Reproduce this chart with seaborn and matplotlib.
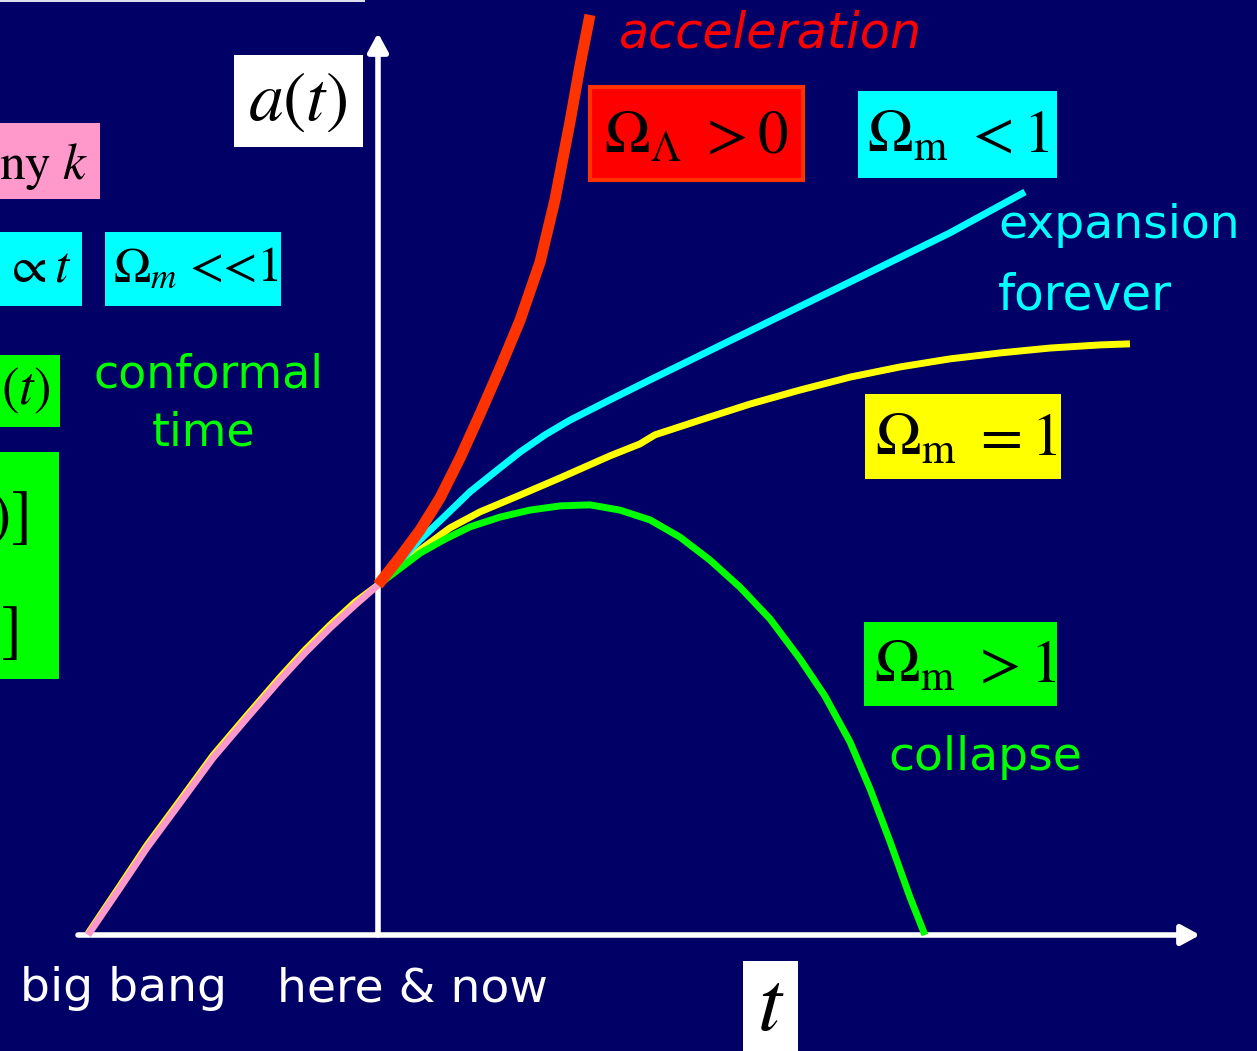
import matplotlib
matplotlib.use("Agg")
import matplotlib.pyplot as plt
import seaborn as sns
from matplotlib.patches import Rectangle

# ---------------- data (t in units of t_now, a in units of a_now) ----------------
pink_t = [0.0, 0.110, 0.203, 0.317, 0.431, 0.548, 0.662, 0.748, 0.834, 0.921, 1.0]
pink_a = [0.0, 0.134, 0.249, 0.377, 0.506, 0.620, 0.729, 0.806, 0.877, 0.943, 1.0]

yellow_t = [0.0, 0.110, 0.203, 0.317, 0.431, 0.548, 0.662, 0.748, 0.834, 0.921,
            1.0, 1.076, 1.145, 1.248, 1.352, 1.490, 1.628, 1.800, 1.903, 1.955,
            2.110, 2.283, 2.455, 2.628, 2.800, 2.972, 3.145, 3.317, 3.490, 3.593]
yellow_a = [0.004, 0.140, 0.256, 0.384, 0.513, 0.627, 0.736, 0.814, 0.885, 0.951,
            1.0, 1.057, 1.100, 1.163, 1.209, 1.257, 1.306, 1.369, 1.403, 1.429,
            1.471, 1.517, 1.557, 1.594, 1.623, 1.646, 1.663, 1.677, 1.686, 1.689]

cyan_t = [1.0, 1.086, 1.145, 1.231, 1.317, 1.403, 1.490, 1.576, 1.662, 1.800, 1.938,
          2.283, 2.628, 2.972, 3.231]
cyan_a = [1.0, 1.077, 1.129, 1.197, 1.266, 1.323, 1.380, 1.429, 1.471, 1.529, 1.586,
          1.726, 1.866, 2.006, 2.123]

red_t = [1.0, 1.076, 1.145, 1.214, 1.283, 1.352, 1.421, 1.490, 1.559, 1.610, 1.662,
         1.697, 1.731]
red_a = [1.0, 1.080, 1.157, 1.249, 1.363, 1.489, 1.620, 1.757, 1.923, 2.100, 2.323,
         2.486, 2.629]

green_t = [1.0, 1.059, 1.145, 1.231, 1.317, 1.421, 1.524, 1.628, 1.731, 1.834, 1.938,
           2.041, 2.145, 2.248, 2.352, 2.455, 2.541, 2.628, 2.697, 2.766, 2.834, 2.886]
green_a = [1.0, 1.037, 1.091, 1.131, 1.166, 1.194, 1.214, 1.226, 1.229, 1.214, 1.186,
           1.137, 1.071, 0.994, 0.903, 0.789, 0.683, 0.551, 0.417, 0.266, 0.109, 0.0]

# ---------------- layout ----------------
W, H = 1257, 1051
BG = "#000066"
X0, Y0 = 88, 935          # pixel of big bang (t=0, a=0)
SX, SY = 290.0, 350.0     # pixels per unit t / unit a

plt.rcParams["mathtext.fontset"] = "stix"
plt.rcParams["font.family"] = ["DejaVu Sans"]

fig = plt.figure(figsize=(W / 100, H / 100), dpi=100)
fig.patch.set_facecolor(BG)
ax = fig.add_axes([0, 0, 1, 1])
ax.set_facecolor(BG)

curves = [
    (yellow_t, yellow_a, "#FFFF00", 5.0, 3),
    (cyan_t, cyan_a, "#00FFFF", 5.0, 4),
    (green_t, green_a, "#00FF00", 5.0, 5),
    (pink_t, pink_a, "#FF99CC", 5.0, 6),
    (red_t, red_a, "#FF3300", 8.0, 7),
]
for t, a, c, lw, z in curves:
    sns.lineplot(x=t, y=a, sort=False, estimator=None, color=c, linewidth=lw,
                 ax=ax, zorder=z, solid_capstyle="butt", solid_joinstyle="round")

ax.set_xlim((0 - X0) / SX, (W - X0) / SX)
ax.set_ylim((Y0 - H) / SY, (Y0 - 0) / SY)
ax.set_axis_off()

# axes arrows
arrow = dict(arrowstyle="-|>,head_length=0.55,head_width=0.3", lw=4, color="white",
             shrinkA=0, shrinkB=0, mutation_scale=20)
ax.annotate("", xy=(1.0, (Y0 - 33) / SY), xytext=(1.0, 0.0), arrowprops=arrow, zorder=2)
ax.annotate("", xy=((1200 - X0) / SX, 0.0), xytext=((78 - X0) / SX, 0.0),
            arrowprops=arrow, zorder=2)


def fx(x):
    return x / W


def fy(y):
    return 1 - y / H


def box(x0, y0, x1, y1, fc, ec=None, lw=0):
    ax.add_patch(Rectangle((fx(x0), fy(y1)), (x1 - x0) / W, (y1 - y0) / H,
                           transform=ax.transAxes, facecolor=fc,
                           edgecolor=ec if ec else fc, linewidth=lw,
                           zorder=8, clip_on=False))


def txt(x, y, s, size, color="black", ha="left", va="baseline", **kw):
    ax.text(fx(x), fy(y), s, transform=ax.transAxes, fontsize=size, color=color,
            ha=ha, va=va, zorder=9, clip_on=False, **kw)


# thin line at top-left
box(0, 0, 365, 2, "#DDDDEE")

# boxes with math
box(234, 55, 363, 147, "white")
txt(298, 120, r"$a(t)$", 50, ha="center")

box(590, 87, 803, 180, "#FF0000", "#FF3300", 3)
txt(604, 153, r"$\Omega_{\Lambda}\ > 0$", 44)

box(858, 91, 1057, 178, "#00FFFF")
txt(867, 153, r"$\Omega_{\rm m}\ < 1$", 44)

box(865, 394, 1061, 479, "#FFFF00")
txt(875, 456, r"$\Omega_{\rm m}\ = 1$", 44)

box(864, 622, 1057, 706, "#00FF00")
txt(874, 683, r"$\Omega_{\rm m}\ > 1$", 44)

box(0, 123, 100, 199, "#FF99CC")
txt(88, 179, r"$\mathrm{ny}\ k$", 37, ha="right")

box(0, 232, 82, 306, "#00FFFF")
txt(71, 281, r"$\propto t$", 37, ha="right")

box(105, 232, 281, 306, "#00FFFF")
txt(113, 281, r"$\Omega_m$", 36)
txt(189, 281, "<<1", 36, family="STIXGeneral")

box(0, 355, 60, 427, "#00FF00")
txt(50, 404, r"$(t)$", 38, ha="right")

box(0, 452, 59, 679, "#00FF00")
txt(28, 535, r"$)]$", 46, ha="right")
txt(18, 650, r"$]$", 46, ha="right")

box(743, 961, 798, 1051, "white")
txt(771, 1030, r"$t$", 62, ha="center")

# plain labels
txt(619, 48, "acceleration", 35.5, color="#FF0000", style="italic")
txt(998, 238, "expansion", 34, color="#00FFFF")
txt(998, 310, "forever", 35, color="#00FFFF")
txt(93, 388, "conformal", 33, color="#00FF00")
txt(204, 445, "time", 33, color="#00FF00", ha="center")
txt(888, 770, "collapse", 34, color="#00FF00")
txt(20, 1001, "big bang", 34, color="white")
txt(277, 1001, "here & now", 34, color="white")

fig.savefig("out.png", dpi=100, facecolor=BG)
